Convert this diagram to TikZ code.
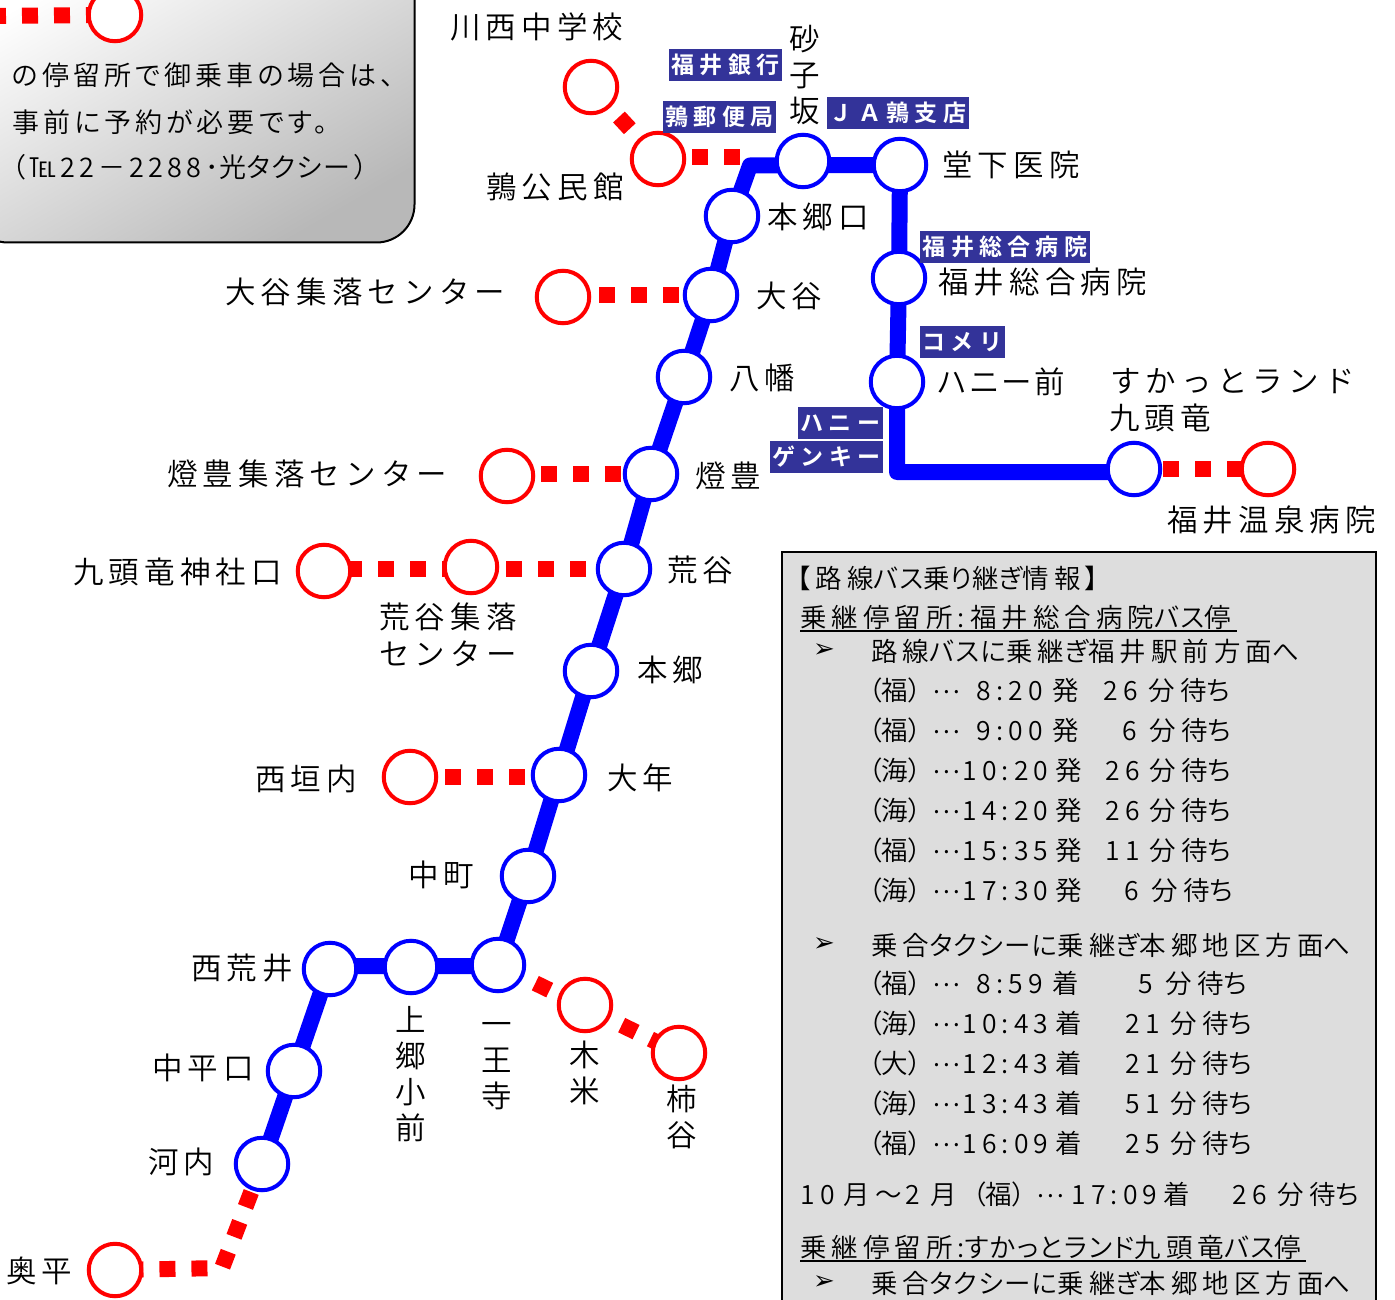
\documentclass[tikz,border=0pt]{standalone}
\usepackage{fontspec}
\usetikzlibrary{backgrounds}
\IfFontExistsTF{Noto Sans CJK JP DemiLight}{\newcommand\jpname{Noto Sans CJK JP DemiLight}}{\newcommand\jpname{Noto Sans CJK JP Light}}
\setmainfont[RawFeature=+palt]{\jpname}
\newfontfamily\labfont[LetterSpace=17]{\jpname}
\newfontfamily\labpfont[LetterSpace=10,RawFeature=+palt]{\jpname}
\newfontfamily\boxfont[LetterSpace=15,RawFeature=+palt]{\jpname}
\newfontfamily\panfont[LetterSpace=19,RawFeature=+palt]{\jpname}
\newfontfamily\tightfont[LetterSpace=5,RawFeature=+palt]{\jpname}
\newfontfamily\dotfont{\jpname}
\newfontfamily\tagfont[LetterSpace=23]{Noto Sans CJK JP Bold}
\newfontfamily\arrowfont{DejaVu Sans}
\definecolor{tagblue}{HTML}{333399}
\definecolor{panelgray}{HTML}{DDDDDD}
\newcommand\col[2]{\makebox[0pt][l]{\hspace{#1pt}#2}}
\newcommand\tk[1]{{\tightfont #1}}
\newcommand\wt{分待\tk{ち}}
\newcommand\rl[1]{\col{-3}{\tk{（}#1\tk{）}}\col{61}{\raisebox{7pt}{\dotfont ⋯}}}
\tikzset{
  bluestop/.style={circle,draw=blue,fill=white,line width=4pt,inner sep=0pt,minimum size=52.5pt},
  redstop/.style={circle,draw=red,fill=white,line width=4pt,inner sep=0pt,minimum size=52.5pt},
  blueline/.style={draw=blue,line width=16pt,line join=round},
  reddash/.style={draw=red,line width=16pt,dash pattern=on 16pt off 16pt},
  lab/.style={anchor=west,inner sep=0pt,font=\fontsize{30.5}{34}\labfont},
  labp/.style={anchor=west,inner sep=0pt,font=\fontsize{30.5}{34}\labpfont},
  vlab/.style={inner sep=0pt,align=center,font=\fontsize{30.5}{36}\selectfont},
  boxtxt/.style={anchor=west,inner sep=0pt,font=\fontsize{27}{30}\boxfont},
  pantxt/.style={anchor=west,inner sep=0pt,font=\fontsize{26.5}{30}\panfont},
  arrowmark/.style={anchor=west,inner sep=0pt,font=\fontsize{26}{28}\arrowfont},
  bluetag/.style={fill=tagblue,text=white,inner sep=0pt,minimum height=32pt,font=\fontsize{23}{26}\tagfont},
  rule/.style={draw=black,line width=2pt}
}
\begin{document}
\begin{tikzpicture}[x=1pt,y=-1pt]
\useasboundingbox (0,0) rectangle (1395,1300);
\clip (0,0) rectangle (1395,1300);
% stops
\node[bluestop] (sunago) at (803,161) {};
\node[bluestop] (doge) at (900,165) {};
\node[bluestop] (hongoguchi) at (732,216) {};
\node[bluestop] (otani) at (711,295) {};
\node[bluestop] (yawata) at (684,377) {};
\node[bluestop] (toyo) at (651,474) {};
\node[bluestop] (araya) at (624,569) {};
\node[bluestop] (hongo) at (591,671) {};
\node[bluestop] (ohtoshi) at (559,775) {};
\node[bluestop] (nakamachi) at (528,876) {};
\node[bluestop] (ichijo) at (498,965) {};
\node[bluestop] (kamigo) at (411,967) {};
\node[bluestop] (nishiarai) at (330,969) {};
\node[bluestop] (nakahira) at (294,1071) {};
\node[bluestop] (kawachi) at (262,1164) {};
\node[bluestop] (hospital) at (899,278) {};
\node[bluestop] (honey) at (897,382) {};
\node[bluestop] (sukatto) at (1134,469) {};
\node[redstop] (legend) at (115,15) {};
\node[redstop] (kawanishi) at (591,87) {};
\node[redstop] (kominkan) at (658,159) {};
\node[redstop] (otanis) at (563,297) {};
\node[redstop] (toyos) at (507,476) {};
\node[redstop] (kuzuryu) at (324,571) {};
\node[redstop] (arayas) at (471,567) {};
\node[redstop] (nishigaito) at (410,777) {};
\node[redstop] (kigome) at (585,1005) {};
\node[redstop] (kakidani) at (679,1053) {};
\node[redstop] (okudaira) at (115,1270) {};
\node[redstop] (onsen) at (1268,469) {};
\coordinate (cornerA) at (750,165.5);
\coordinate (cornerB) at (897,472);
\coordinate (cornerC) at (222,1268);
\coordinate (cornerD) at (330,966);
\coordinate (cornerE) at (498,966);
\coordinate (legendEnd) at (-10,16);
\coordinate (kominkanEnd) at (740,157);
% background
\begin{scope}[on background layer]
\shadedraw[draw=black,line width=2pt,rounded corners=38pt,top color=white,bottom color=black!28,shading angle=30] (-30,-40) rectangle (414.5,242.5);
\draw[draw=black,fill=panelgray,line width=2.5pt] (782,552) rectangle (1376,1340);
\draw[rule] (800,631) -- (1237,631);
\draw[rule] (800,1261) -- (1306,1261);
\draw[blueline] (kawachi.center) -- (nakahira.center) -- (cornerD) -- (cornerE) -- (nakamachi.center) -- (ohtoshi.center) -- (hongo.center) -- (araya.center) -- (toyo.center) -- (yawata.center) -- (otani.center) -- (hongoguchi.center) -- (cornerA) -- (doge.center) -- (hospital.center) -- (honey.center) -- (cornerB) -- (cornerB -| sukatto.center);
\draw[reddash] (legendEnd) -- (legend.center);
\draw[reddash,dash phase=23pt] (kawanishi.center) -- (kominkan.center);
\draw[reddash,dash phase=30pt] (kominkanEnd -| kominkan.center) -- (kominkanEnd);
\draw[reddash,dash phase=28pt] (otani.center -| otanis.center) -- (otani.center);
\draw[reddash,dash phase=30pt] (toyo.center -| toyos.center) -- (toyo.center);
\draw[reddash,dash phase=10pt] (araya.center -| kuzuryu.center) -- (araya.center);
\draw[reddash,dash phase=29pt] (nishigaito.center) -- (nishigaito.center -| ohtoshi.center);
\draw[reddash,dash phase=3pt] (sukatto.center) -- (onsen.center);
\draw[reddash,dash phase=22.5pt] (ichijo.center) -- (kakidani.center);
\draw[reddash,dash phase=2pt] (kawachi.center) -- (cornerC) -- (okudaira.center);
\end{scope}
% tags
\node[bluetag,minimum width=113pt] (tagbank) at (725.5,65) {福井銀行};
\node[bluetag,minimum width=113pt] (tagpost) at (719.5,117) {鶉郵便局};
\node[bluetag,minimum width=142pt] (tagja) at (898,113) {ＪＡ鶉支店};
\node[bluetag,minimum width=170pt] (taghosp) at (1005,247) {福井総合病院};
\node[bluetag,minimum width=85pt] (tagkomeri) at (962.5,342) {コメリ};
\node[bluetag,minimum width=85pt] (taghoney) at (840.5,423) {ハニー};
\node[bluetag,minimum width=113pt] (taggenky) at (826.5,457) {ゲンキー};
% stop labels
\node[lab] (l1) at (450,27) {川西中学校};
\node[lab] (l2) at (486,187) {鶉公民館};
\node[vlab] (l3) at (805,75.5) {砂\\子\\坂};
\node[lab] (l4) at (942,165) {堂下医院};
\node[lab] (l5) at (767,217) {本郷口};
\node[lab] (l6) at (938,282) {福井総合病院};
\node[lab] (l7) at (225,292) {大谷集落センター};
\node[lab] (l8) at (756,296) {大谷};
\node[lab] (l9) at (729,378) {八幡};
\node[labp] (l10) at (938,382) {ハニー前};
\node[lab] (l11) at (1110,381) {すかっとランド};
\node[lab] (l12) at (1109,418) {九頭竜};
\node[lab] (l13) at (1167,520) {福井温泉病院};
\node[lab] (l14) at (167,474) {燈豊集落センター};
\node[lab] (l15) at (695,476) {燈豊};
\node[lab] (l16) at (73,572) {九頭竜神社口};
\node[lab] (l17) at (667,570) {荒谷};
\node[lab] (l18) at (379,617) {荒谷集落};
\node[lab] (l19) at (379,654) {センター};
\node[lab] (l20) at (637,670) {本郷};
\node[lab] (l21) at (255,779) {西垣内};
\node[lab] (l22) at (607,778) {大年};
\node[lab] (l23) at (408,875) {中町};
\node[lab] (l24) at (191,968) {西荒井};
\node[lab] (l25) at (152,1068) {中平口};
\node[lab] (l26) at (148,1162) {河内};
\node[lab] (l27) at (6,1271) {奥平};
\node[vlab] (l28) at (411,1074) {上\\郷\\小\\前};
\node[vlab] (l29) at (497,1066) {一\\王\\寺};
\node[vlab] (l30) at (585,1073) {木\\米};
\node[vlab] (l31) at (682,1117) {柿\\谷};
% notice box text
\node[boxtxt] (b1) at (12,75) {の停留所で御乗車の場合は、};
\node[boxtxt] (b2) at (12,122) {事前に予約が必要です。};
\node[boxtxt] (b3) at (12,167) {（℡22－2288\hspace{4pt}･\hspace{1pt}光\tk{タクシー}\hspace{4pt}）};
% panel text
\node[pantxt] (p1) at (797,578) {【路線\tk{バス}乗\tk{り}継\tk{ぎ}情報】};
\node[pantxt] (p2) at (800,618) {乗継停留所:福井総合病院\tk{バス}停};
\node[arrowmark] (a1) at (813,651) {➢};
\node[pantxt] (p3) at (871,651) {路線\tk{バスに}乗継\tk{ぎ}福井駅前方面\tk{へ}};
\node[pantxt] (t1) at (871,690) {\rl{福}\col{105}{8:20}\col{181}{発}\col{232}{26}\col{277}{\wt}};
\node[pantxt] (t2) at (871,730) {\rl{福}\col{105}{9:00}\col{181}{発}\col{251}{6}\col{278}{\wt}};
\node[pantxt] (t3) at (871,770) {\rl{海}\col{91}{10:20}\col{184}{発}\col{234}{26}\col{278}{\wt}};
\node[pantxt] (t4) at (871,810) {\rl{海}\col{91}{14:20}\col{184}{発}\col{234}{26}\col{278}{\wt}};
\node[pantxt] (t5) at (871,850) {\rl{福}\col{91}{15:35}\col{184}{発}\col{234}{11}\col{278}{\wt}};
\node[pantxt] (t6) at (871,890) {\rl{海}\col{91}{17:30}\col{184}{発}\col{253}{6}\col{280}{\wt}};
\node[arrowmark] (a2) at (813,945) {➢};
\node[pantxt] (p4) at (871,945) {乗合\tk{タクシーに}乗継\tk{ぎ}本郷地区方面\tk{へ}};
\node[pantxt] (t7) at (871,983) {\rl{福}\col{105}{8:59}\col{181}{着}\col{267}{5}\col{294}{\wt}};
\node[pantxt] (t8) at (871,1023) {\rl{海}\col{91}{10:43}\col{184}{着}\col{254}{21}\col{299}{\wt}};
\node[pantxt] (t9) at (871,1063) {\rl{大}\col{91}{12:43}\col{184}{着}\col{254}{21}\col{299}{\wt}};
\node[pantxt] (t10) at (871,1103) {\rl{海}\col{91}{13:43}\col{184}{着}\col{254}{51}\col{299}{\wt}};
\node[pantxt] (t11) at (871,1143) {\rl{福}\col{91}{16:09}\col{184}{着}\col{254}{25}\col{299}{\wt}};
\node[pantxt] (t12) at (800,1194) {\col{0}{10}\col{43}{月}\col{75}{～}\col{105}{2}\col{130}{月}\col{175}{\rl{福}}\col{271}{17:09}\col{363}{着}\col{432}{26}\col{477}{\wt}};
\node[pantxt] (p5) at (800,1247) {乗継停留所:\tk{すかっとランド}九頭竜\tk{バス}停};
\node[arrowmark] (a3) at (813,1283) {➢};
\node[pantxt] (p6) at (871,1283) {乗合\tk{タクシーに}乗継\tk{ぎ}本郷地区方面\tk{へ}};
\end{tikzpicture}
\end{document}
